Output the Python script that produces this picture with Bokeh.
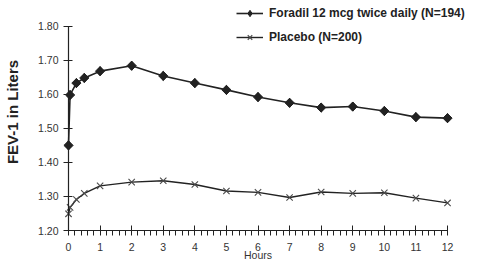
import math
from bokeh.plotting import figure
from bokeh.models import (Range1d, FixedTicker, NumeralTickFormatter, Legend,
                          LegendItem, Label)
from bokeh.embed import file_html
from bokeh.resources import INLINE

hours = [0, 0.05, 0.25, 0.5, 1, 2, 3, 4, 5, 6, 7, 8, 9, 10, 11, 12]
foradil = [1.450, 1.598, 1.633, 1.648, 1.668, 1.684, 1.654, 1.633, 1.613,
           1.592, 1.575, 1.561, 1.564, 1.551, 1.533, 1.530]
placebo = [1.249, 1.268, 1.291, 1.309, 1.331, 1.342, 1.346, 1.335, 1.316,
           1.312, 1.297, 1.313, 1.309, 1.311, 1.295, 1.281]
x_ticks = list(range(0, 13))
x_minor = [h + k / 5 for h in range(0, 12) for k in range(1, 5)]
y_ticks = [1.20, 1.30, 1.40, 1.50, 1.60, 1.70, 1.80]
label_foradil = "Foradil 12 mcg twice daily (N=194)"
label_placebo = "Placebo (N=200)"
x_title = "Hours"
y_title = "FEV-1 in Liters"

TICK_FONT = "Liberation Sans"
BOLD_FONT = "Liberation Sans"
INK = "#222222"

# The frame fills the whole canvas; axes sit at fixed data locations.
p = figure(width=467, height=260, output_backend="svg", toolbar_location=None,
           x_range=Range1d(-2.153, 12.633), y_range=Range1d(1.1119, 1.8755),
           min_border=0)
p.outline_line_color = None
p.grid.visible = False
p.background_fill_color = "white"
p.border_fill_color = "white"

r1l = p.line(hours, foradil, line_color=INK, line_width=1.6)
# diamond marker (used by the legend), covered by a rotated square in the plot
r1d = p.scatter(hours, foradil, marker="diamond", size=9, fill_color=INK,
                line_color=INK)
r1m = p.scatter(hours, foradil, marker="square", angle=math.pi / 4, size=6.5,
                fill_color=INK, line_color=INK)
r2l = p.line(hours, placebo, line_color=INK, line_width=1.4)
r2m = p.scatter(hours, placebo, marker="x", size=9, line_color="#4a4a4a",
                line_width=1.1)

# x axis
xa = p.xaxis[0]
xa.fixed_location = y_ticks[0]
xa.ticker = FixedTicker(ticks=x_ticks, minor_ticks=x_minor)
xa.bounds = (x_ticks[0], x_ticks[-1])
xa.axis_line_color = INK
xa.major_tick_line_color = INK
xa.minor_tick_line_color = INK
xa.major_tick_in = 5
xa.major_tick_out = 5
xa.minor_tick_in = 0
xa.minor_tick_out = 5
xa.major_label_standoff = 7
xa.major_label_text_font = TICK_FONT
xa.major_label_text_font_size = "10.5px"
xa.major_label_text_color = "#333333"

# y axis
ya = p.yaxis[0]
ya.fixed_location = x_ticks[0]
ya.ticker = FixedTicker(ticks=y_ticks, minor_ticks=[])
ya.bounds = (y_ticks[0], y_ticks[-1])
ya.formatter = NumeralTickFormatter(format="0.00")
ya.axis_line_color = INK
ya.axis_line_width = 1.2
ya.major_tick_line_color = INK
ya.major_tick_in = 4
ya.major_tick_out = 5
ya.minor_tick_line_color = None
ya.major_label_standoff = 5
ya.major_label_text_font = TICK_FONT
ya.major_label_text_font_size = "10.5px"
ya.major_label_text_color = "#333333"

p.add_layout(Label(x=-1.773, y=1.548, text=y_title, angle=math.pi / 2,
                   text_align="center", text_baseline="middle",
                   text_font=BOLD_FONT, text_font_style="bold",
                   text_font_size="15px", text_color=INK))
p.add_layout(Label(x=6, y=1.1266, text=x_title, text_align="center",
                   text_baseline="middle", text_font=TICK_FONT,
                   text_font_size="10.5px", text_color="#333333"))

legend = Legend(items=[LegendItem(label=label_foradil, renderers=[r1l, r1d]),
                       LegendItem(label=label_placebo, renderers=[r2l, r2m])],
                location=(236, 215), orientation="vertical",
                glyph_width=27, glyph_height=16, label_height=16,
                label_standoff=6, spacing=8, padding=0, margin=0,
                border_line_color=None, background_fill_alpha=0,
                label_text_font=BOLD_FONT, label_text_font_style="bold",
                label_text_font_size="12px", label_text_color=INK)
p.add_layout(legend, "center")

open("out.html", "w").write(file_html(p, INLINE))
